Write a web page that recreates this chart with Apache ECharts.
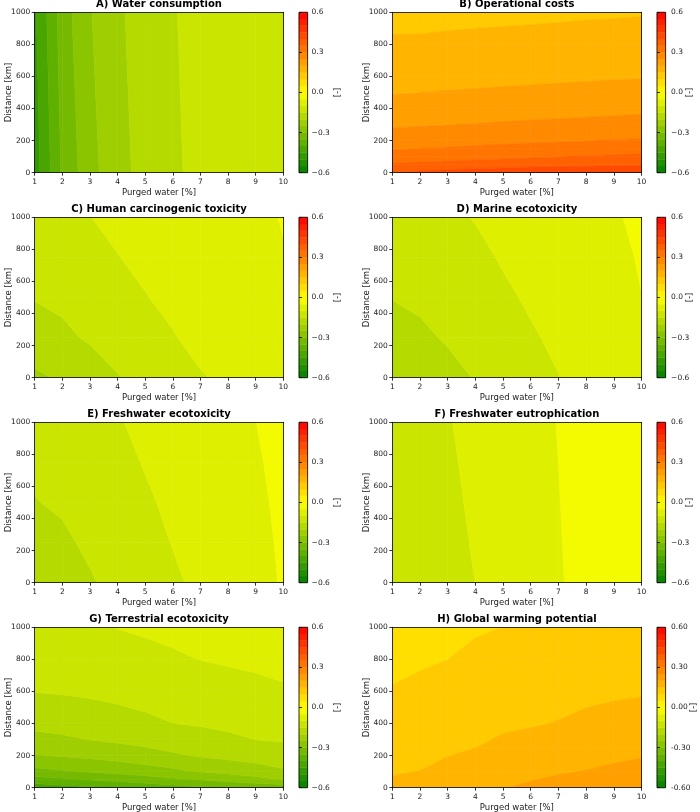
<!DOCTYPE html>
<html>
<head>
<meta charset="utf-8">
<script src="https://cdn.jsdelivr.net/npm/echarts@6/dist/echarts.min.js"></script>
<style>
  html, body { margin: 0; padding: 0; background: #fff; }
  #chart { width: 700px; height: 812px; }
</style>
</head>
<body>
<div id="chart"></div>
<script>
// x grid shared by every panel: purged water [%]
const purgedWater = [1, 2, 3, 4, 5, 6, 7, 8, 9, 10];
// contour levels and colour bar ticks
const levels = [-0.6, -0.55, -0.5, -0.45, -0.4, -0.35, -0.3, -0.25, -0.2, -0.15, -0.1, -0.05, 0,
                0.05, 0.1, 0.15, 0.2, 0.25, 0.3, 0.35, 0.4, 0.45, 0.5, 0.55, 0.6];
const cbarTicks = [-0.6, -0.3, 0, 0.3, 0.6];

const titles = ['A) Water consumption', 'B) Operational costs', 'C) Human carcinogenic toxicity',
  'D) Marine ecotoxicity', 'E) Freshwater ecotoxicity', 'F) Freshwater eutrophication',
  'G) Terrestrial ecotoxicity', 'H) Global warming potential'];

// each panel: distance rows [km] and one row of values per distance (over purgedWater)
const distA = [0, 1000];
const waterConsumption = [
  [-0.475, -0.343, -0.268, -0.215, -0.185, -0.160, -0.133, -0.122, -0.115, -0.110],
  [-0.458, -0.325, -0.253, -0.210, -0.173, -0.153, -0.135, -0.123, -0.116, -0.110]
];

const distB = [0, 50, 100, 150, 200, 300, 400, 500, 600, 800, 1000];
const operationalCosts = [
  [0.395, 0.410, 0.420, 0.430, 0.440, 0.451, 0.452, 0.454, 0.456, 0.458],
  [0.355, 0.360, 0.364, 0.369, 0.373, 0.378, 0.382, 0.387, 0.391, 0.396],
  [0.325, 0.329, 0.333, 0.337, 0.341, 0.345, 0.349, 0.353, 0.357, 0.361],
  [0.297, 0.300, 0.304, 0.308, 0.312, 0.316, 0.320, 0.324, 0.328, 0.332],
  [0.278, 0.281, 0.284, 0.287, 0.290, 0.293, 0.296, 0.299, 0.302, 0.305],
  [0.243, 0.246, 0.249, 0.252, 0.255, 0.258, 0.260, 0.263, 0.266, 0.269],
  [0.219, 0.221, 0.224, 0.226, 0.228, 0.230, 0.233, 0.235, 0.237, 0.240],
  [0.197, 0.200, 0.202, 0.204, 0.206, 0.208, 0.210, 0.213, 0.215, 0.217],
  [0.184, 0.185, 0.187, 0.188, 0.190, 0.191, 0.193, 0.194, 0.196, 0.197],
  [0.158, 0.1585, 0.161, 0.163, 0.164, 0.166, 0.167, 0.169, 0.170, 0.172],
  [0.132, 0.1325, 0.135, 0.137, 0.139, 0.140, 0.142, 0.144, 0.145, 0.147]
];

const distC = [0, 250, 500, 750, 1000];
const humanCarcinogenic = [
  [-0.207, -0.195, -0.172, -0.152, -0.1355, -0.119, -0.1032, -0.092, -0.082, -0.073],
  [-0.1767, -0.158, -0.145, -0.135, -0.120, -0.1025, -0.088, -0.080, -0.071, -0.063],
  [-0.147, -0.142, -0.128, -0.118, -0.1015, -0.091, -0.081, -0.073, -0.065, -0.057],
  [-0.133, -0.126, -0.113, -0.101, -0.092, -0.084, -0.076, -0.069, -0.061, -0.052],
  [-0.120, -0.110, -0.1005, -0.092, -0.085, -0.078, -0.071, -0.065, -0.058, -0.048]
];

const distD = [0, 250, 500, 750, 1000];
const marineEcotox = [
  [-0.195, -0.178, -0.163, -0.148, -0.132, -0.117, -0.101, -0.087, -0.074, -0.062],
  [-0.171, -0.1575, -0.1459, -0.1351, -0.1193, -0.104, -0.093, -0.080, -0.068, -0.0562],
  [-0.1485, -0.1429, -0.1329, -0.1223, -0.1066, -0.0949, -0.0854, -0.074, -0.063, -0.0504],
  [-0.137, -0.1295, -0.120, -0.1094, -0.0964, -0.0874, -0.0777, -0.068, -0.058, -0.0472],
  [-0.125, -0.116, -0.107, -0.098, -0.089, -0.080, -0.071, -0.062, -0.053, -0.044]
];

const distE = [0, 250, 500, 750, 1000];
const freshwaterEcotox = [
  [-0.186, -0.170, -0.154, -0.138, -0.122, -0.1063, -0.0916, -0.077, -0.062, -0.047],
  [-0.1694, -0.1568, -0.143, -0.129, -0.1135, -0.0985, -0.087, -0.073, -0.0592, -0.0453],
  [-0.1515, -0.1449, -0.133, -0.120, -0.105, -0.093, -0.0818, -0.0685, -0.0563, -0.0435],
  [-0.1427, -0.1342, -0.123, -0.111, -0.0977, -0.087, -0.0765, -0.0645, -0.0533, -0.0418],
  [-0.134, -0.1235, -0.113, -0.1025, -0.092, -0.0815, -0.071, -0.0605, -0.0502, -0.040]
];

const distF = [0, 1000];
const freshwaterEutro = [
  [-0.146, -0.131, -0.1155, -0.0997, -0.0842, -0.0687, -0.0533, -0.038, -0.025, -0.013],
  [-0.129, -0.1158, -0.1024, -0.089, -0.0756, -0.0622, -0.0488, -0.0354, -0.024, -0.013]
];

const distG = [0, 50, 100, 200, 300, 400, 600, 800, 1000];
const terrestrialEcotox = [
  [-0.430, -0.418, -0.408, -0.399, -0.385, -0.372, -0.358, -0.346, -0.340, -0.335],
  [-0.371, -0.359, -0.3467, -0.3356, -0.3227, -0.3095, -0.2969, -0.2841, -0.2676, -0.248],
  [-0.316, -0.305, -0.2956, -0.2871, -0.2758, -0.2618, -0.2472, -0.2363, -0.2232, -0.2067],
  [-0.252, -0.246, -0.2386, -0.2293, -0.2185, -0.2061, -0.1959, -0.1876, -0.1796, -0.1713],
  [-0.2144, -0.208, -0.1989, -0.1924, -0.1848, -0.1767, -0.1682, -0.1582, -0.1496, -0.1456],
  [-0.1874, -0.183, -0.1767, -0.1686, -0.1594, -0.1503, -0.146, -0.1412, -0.1367, -0.1319],
  [-0.1487, -0.1463, -0.1425, -0.1378, -0.1331, -0.1281, -0.1224, -0.1166, -0.111, -0.1046],
  [-0.1344, -0.1292, -0.1238, -0.1179, -0.1124, -0.1061, -0.0993, -0.0953, -0.092, -0.0887],
  [-0.120, -0.112, -0.105, -0.099, -0.094, -0.089, -0.085, -0.081, -0.078, -0.075]
];

const distH = [0, 100, 250, 400, 600, 800, 1000];
const globalWarming = [
  [0.1575, 0.165, 0.175, 0.185, 0.1985, 0.207, 0.215, 0.220, 0.224, 0.228],
  [0.1477, 0.1506, 0.1605, 0.1707, 0.1828, 0.190, 0.1968, 0.2015, 0.2076, 0.2124],
  [0.1339, 0.1373, 0.1438, 0.1496, 0.1594, 0.1663, 0.1743, 0.1804, 0.1859, 0.1904],
  [0.1202, 0.1242, 0.1318, 0.1383, 0.1434, 0.1466, 0.1518, 0.1597, 0.1657, 0.1701],
  [0.1018, 0.1068, 0.1157, 0.1231, 0.129, 0.1321, 0.1359, 0.1399, 0.1434, 0.1459],
  [0.0929, 0.0962, 0.0999, 0.108, 0.1146, 0.1175, 0.121, 0.1245, 0.1277, 0.1305],
  [0.085, 0.090, 0.094, 0.096, 0.1002, 0.103, 0.106, 0.109, 0.112, 0.115]
];

const panels = [
  { dist: distA, values: waterConsumption },
  { dist: distB, values: operationalCosts },
  { dist: distC, values: humanCarcinogenic },
  { dist: distD, values: marineEcotox },
  { dist: distE, values: freshwaterEcotox },
  { dist: distF, values: freshwaterEutro },
  { dist: distG, values: terrestrialEcotox },
  { dist: distH, values: globalWarming, decimals: 2 }
];

const FONT = 'DejaVu Sans';
const plotLeft = [34.7, 392.3], plotWidth = [248.6, 249.2];
const cbarLeft = [299, 657], cbarWidth = 8.6;
const cbarLabelMargin = [4, 5.5];
const rowTop = [12.3, 217.3, 422.3, 627.3], plotHeight = 160.4;

// green -> yellow -> red, sampled at the middle of each band
function bandColor(k) {
  const mid = (levels[k] + levels[k + 1]) / 2;
  const f = (mid - levels[0]) / (levels[levels.length - 1] - levels[0]);
  let r, g;
  if (f <= 0.5) { const t = f / 0.5; r = t; g = 0.502 + 0.498 * t; }
  else { r = 1; g = 1 - (f - 0.5) / 0.5; }
  return 'rgb(' + Math.round(r * 255) + ',' + Math.round(g * 255) + ',0)';
}

// keep the part of a polygon where f(p) >= 0, linear along edges
function clipHalf(poly, f) {
  const out = [];
  for (let k = 0; k < poly.length; k++) {
    const a = poly[k], b = poly[(k + 1) % poly.length];
    const fa = f(a), fb = f(b);
    if (fa >= 0) out.push(a);
    if ((fa >= 0) !== (fb >= 0)) {
      const t = fa / (fa - fb);
      out.push([a[0] + t * (b[0] - a[0]), a[1] + t * (b[1] - a[1]), a[2] + t * (b[2] - a[2])]);
    }
  }
  return out;
}

function contourRenderer(dist, values) {
  return function (params, api) {
    const i = api.value(2), j = api.value(3);
    const cell = [
      [purgedWater[i], dist[j], values[j][i]],
      [purgedWater[i + 1], dist[j], values[j][i + 1]],
      [purgedWater[i + 1], dist[j + 1], values[j + 1][i + 1]],
      [purgedWater[i], dist[j + 1], values[j + 1][i]]
    ];
    const children = [];
    for (let k = 0; k < levels.length - 1; k++) {
      let poly = clipHalf(cell, p => p[2] - levels[k]);
      poly = clipHalf(poly, p => levels[k + 1] - p[2]);
      if (poly.length < 3) continue;
      const col = bandColor(k);
      children.push({
        type: 'polygon',
        shape: { points: poly.map(p => api.coord([p[0], p[1]])) },
        style: { fill: col, stroke: col, lineWidth: 0.6 }
      });
    }
    return { type: 'group', children: children };
  };
}

function colorbarRenderer(params, api) {
  const k = api.value(2);
  const p0 = api.coord([0, levels[k + 1]]);
  const p1 = api.coord([1, levels[k]]);
  const col = bandColor(k);
  const children = [{
    type: 'rect',
    shape: { x: p0[0], y: p0[1], width: p1[0] - p0[0], height: p1[1] - p0[1] },
    style: { fill: col, stroke: col, lineWidth: 0.4 }
  }];
  if (k === levels.length - 2) {
    const a = api.coord([0, levels[levels.length - 1]]);
    const b = api.coord([1, levels[0]]);
    children.push({
      type: 'rect',
      shape: { x: a[0], y: a[1], width: b[0] - a[0], height: b[1] - a[1] },
      style: { fill: null, stroke: '#000', lineWidth: 0.8 }
    });
  }
  return { type: 'group', children: children };
}

const tickLabel = { fontFamily: FONT, fontSize: 7.5, color: '#222' };
const axisName = { fontFamily: FONT, fontSize: 8.5, color: '#222' };
const blackLine = { color: '#000', width: 0.8 };

const grid = [], xAxis = [], yAxis = [], series = [], graphic = [];

panels.forEach(function (p, n) {
  const col = n % 2, row = Math.floor(n / 2);
  const gi = grid.length;
  grid.push({ left: plotLeft[col], top: rowTop[row], width: plotWidth[col], height: plotHeight,
              containLabel: false, outerBoundsMode: 'none' });
  const xi = xAxis.length, yi = yAxis.length;
  xAxis.push({
    type: 'value', gridIndex: gi, min: 1, max: 10, interval: 1, z: 5,
    axisLine: { show: true, onZero: false, lineStyle: blackLine },
    axisTick: { show: true, length: 3, lineStyle: blackLine },
    axisLabel: Object.assign({ margin: 5, formatter: v => String(v) }, tickLabel),
    splitLine: { show: false },
    name: 'Purged water [%]', nameLocation: 'middle', nameGap: 16, nameMoveOverlap: false,
    nameTextStyle: axisName
  });
  xAxis.push({
    type: 'value', gridIndex: gi, min: 1, max: 10, position: 'top', z: 5,
    axisLine: { show: true, onZero: false, lineStyle: blackLine },
    axisTick: { show: false }, axisLabel: { show: false }, splitLine: { show: false }
  });
  yAxis.push({
    type: 'value', gridIndex: gi, min: 0, max: 1000, interval: 200, z: 5,
    axisLine: { show: true, onZero: false, lineStyle: blackLine },
    axisTick: { show: true, length: 3, lineStyle: blackLine },
    axisLabel: Object.assign({ margin: 4.5, formatter: v => String(v) }, tickLabel),
    splitLine: { show: false },
    name: 'Distance [km]', nameLocation: 'middle', nameGap: 21.5, nameMoveOverlap: false,
    nameTextStyle: axisName
  });
  yAxis.push({
    type: 'value', gridIndex: gi, min: 0, max: 1000, position: 'right', z: 5,
    axisLine: { show: true, onZero: false, lineStyle: blackLine },
    axisTick: { show: false }, axisLabel: { show: false }, splitLine: { show: false }
  });

  const cells = [];
  for (let j = 0; j < p.dist.length - 1; j++) {
    for (let i = 0; i < purgedWater.length - 1; i++) {
      cells.push([purgedWater[i], p.dist[j], i, j]);
    }
  }
  series.push({
    type: 'custom', xAxisIndex: xi, yAxisIndex: yi, coordinateSystem: 'cartesian2d',
    clip: true, silent: true, animation: false,
    encode: { x: 0, y: 1 },
    renderItem: contourRenderer(p.dist, p.values),
    data: cells
  });

  // colour bar
  const cg = grid.length;
  grid.push({ left: cbarLeft[col], top: rowTop[row], width: cbarWidth, height: plotHeight,
              containLabel: false, outerBoundsMode: 'none' });
  const cx = xAxis.length, cy = yAxis.length;
  const dec = p.decimals || 1;
  const cbarGap = col === 0 ? 26 : (dec === 2 ? 24 : 20);
  xAxis.push({ type: 'value', gridIndex: cg, min: 0, max: 1, show: false });
  yAxis.push({
    type: 'value', gridIndex: cg, min: cbarTicks[0], max: cbarTicks[cbarTicks.length - 1],
    interval: cbarTicks[1] - cbarTicks[0], position: 'right', z: 5,
    axisLine: { show: false },
    axisTick: { show: true, length: 3, lineStyle: blackLine },
    axisLabel: Object.assign({
      margin: cbarLabelMargin[col],
      formatter: function (v) {
        if (Math.abs(v) < 1e-9) return (0).toFixed(dec);
        const s = Math.abs(v).toFixed(dec);
        return v < 0 ? (dec === 2 ? '-' : '\u2212') + s : s;
      }
    }, tickLabel),
    splitLine: { show: false },
    name: '[-]', nameLocation: 'middle', nameGap: cbarGap, nameRotate: 90,
    nameMoveOverlap: false, nameTextStyle: axisName
  });
  series.push({
    type: 'custom', xAxisIndex: cx, yAxisIndex: cy, coordinateSystem: 'cartesian2d',
    silent: true, animation: false, encode: { x: 0, y: 1 },
    renderItem: colorbarRenderer,
    data: levels.slice(0, -1).map((lo, k) => [0.5, (lo + levels[k + 1]) / 2, k])
  });

  graphic.push({
    type: 'text', x: plotLeft[col] + plotWidth[col] / 2, y: rowTop[row] - 8,
    style: { text: titles[n], fontFamily: FONT, fontSize: 10, fontWeight: 'bold', fill: '#000',
             align: 'center', verticalAlign: 'middle' }
  });
});

const myChart = echarts.init(document.getElementById('chart'), null, { renderer: 'canvas' });
myChart.setOption({
  backgroundColor: '#fff',
  animation: false,
  grid: grid, xAxis: xAxis, yAxis: yAxis, series: series, graphic: graphic
});
</script>
</body>
</html>
